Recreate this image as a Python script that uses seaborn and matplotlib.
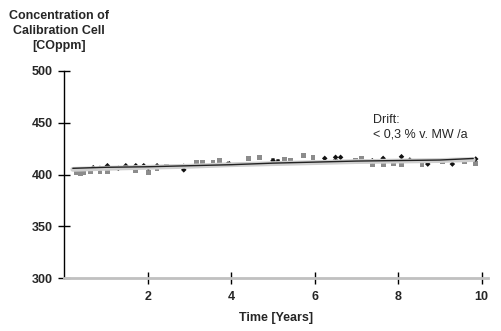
import matplotlib
matplotlib.use("Agg")
import matplotlib.pyplot as plt
import seaborn as sns
import pandas as pd

# --- data ---
black_t = [0.69, 0.85, 1.03, 1.29, 1.47, 1.71, 1.90, 2.01, 2.22, 2.86, 2.86, 3.91, 3.95,
           5.00, 5.12, 6.24, 6.50, 6.62, 7.38, 7.64, 8.08, 8.28, 8.71, 9.30, 9.86]
black_v = [406.6, 406.0, 408.5, 406.0, 408.5, 408.5, 408.5, 406.6, 408.5, 404.5, 408.0, 410.0, 410.5,
           413.3, 412.4, 415.6, 416.6, 416.6, 413.3, 415.6, 417.2, 414.0, 410.1, 410.1, 415.0]

grey_t = [0.29, 0.39, 0.45, 0.63, 0.75, 0.85, 1.03, 1.71, 2.01, 2.22, 2.45, 3.17, 3.30, 3.56,
          3.72, 4.42, 4.68, 5.00, 5.12, 5.28, 5.42, 5.74, 5.96, 6.50, 6.97, 7.13, 7.38, 7.64,
          7.88, 8.08, 8.57, 9.07, 9.59, 9.86]
grey_v = [402.1, 401.2, 402.1, 402.7, 405.3, 402.7, 402.7, 403.4, 402.1, 405.3, 407.5, 411.8, 411.8, 411.8,
          413.3, 415.6, 416.6, 414.0, 412.4, 415.0, 413.3, 418.2, 416.6, 412.4, 413.3, 415.6, 409.2, 409.9,
          410.8, 409.2, 409.9, 412.4, 412.4, 410.8]

trend_t = [0.2, 1.0, 2.0, 3.0, 4.0, 5.0, 6.0, 7.0, 8.0, 9.0, 9.8]
trend_black = [406.0, 407.0, 407.5, 408.5, 409.5, 411.0, 412.0, 413.0, 413.5, 414.0, 415.5]
trend_grey = [405.0, 406.0, 407.0, 408.0, 409.5, 410.5, 411.5, 412.5, 413.0, 413.5, 414.5]

x_ticks = [2, 4, 6, 8, 10]
y_ticks = [300, 350, 400, 450, 500]

sns.set_theme(style="white")
plt.rcParams['font.family'] = ['Liberation Sans', 'DejaVu Sans']

fig = plt.figure(figsize=(5.01, 3.31), dpi=100)
ax = fig.add_axes([0.1287, 0.160, 0.845, 0.6255])

sns.lineplot(x=trend_t, y=trend_grey, ax=ax, color="#cfcfcf", linewidth=3.5)
sns.lineplot(x=trend_t, y=trend_black, ax=ax, color="#222222", linewidth=1.0)
sns.scatterplot(x=grey_t, y=grey_v, ax=ax, marker="s", s=12, color="#8c8c8c", edgecolor="none")
sns.scatterplot(x=black_t, y=black_v, ax=ax, marker="D", s=8, color="#111111", edgecolor="none")

ax.set_xlim(0, 10.15)
ax.set_ylim(300, 500)
ax.set_xticks(x_ticks)
ax.set_yticks(y_ticks)
ax.set_xticklabels([str(v) for v in x_ticks], fontsize=9, fontweight="bold")
ax.set_yticklabels([str(v) for v in y_ticks], fontsize=9, fontweight="bold")

for s in ["top", "right"]:
    ax.spines[s].set_visible(False)
ax.spines["left"].set_color("#000000")
ax.spines["left"].set_linewidth(1.0)
ax.spines["bottom"].set_color("#c0c0c0")
ax.spines["bottom"].set_linewidth(2.0)

ax.tick_params(axis="x", bottom=True, direction="inout", length=8, width=1, color="#000000", pad=5)
ax.tick_params(axis="y", left=True, direction="inout", length=9, width=1, color="#000000", pad=4)

ax.set_xlabel("Time [Years]", fontsize=9, fontweight="bold", labelpad=7)
ax.set_ylabel("")

fig.text(0.117, 0.97, "Concentration of\nCalibration Cell\n[COppm]", ha="center", va="top",
         fontsize=9, fontweight="bold", linespacing=1.35)
ax.text(7.4, 433, "Drift:\n< 0,3 % v. MW /a", fontsize=9, ha="left", va="bottom", linespacing=1.3)

fig.savefig("out.png", dpi=100)
